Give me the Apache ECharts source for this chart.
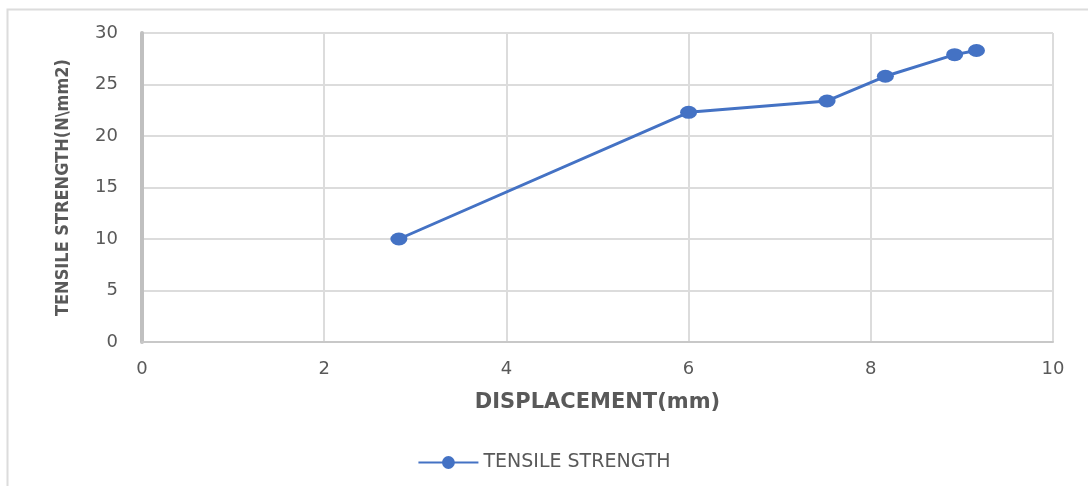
<!DOCTYPE html>
<html>
<head>
<meta charset="utf-8">
<script src="https://cdn.jsdelivr.net/npm/echarts@6/dist/echarts.min.js"></script>
<style>
html,body{margin:0;padding:0;background:#fff;}
#c{width:1088px;height:486px;}
</style>
</head>
<body>
<div id="c"></div>
<script>
const displacement = [2.82, 6.0, 7.52, 8.16, 8.92, 9.16];
const tensileStrength = [10.0, 22.3, 23.4, 25.8, 27.9, 28.3];
const seriesName = 'TENSILE STRENGTH';
const xAxisName = 'DISPLACEMENT(mm)';
const yAxisName = 'TENSILE STRENGTH(N\\mm2)';

const chart = echarts.init(document.getElementById('c'), null, {renderer: 'canvas'});
const labelColor = '#595959';
chart.setOption({
  animation: false,
  backgroundColor: '#ffffff',
  graphic: [{
    type: 'rect',
    left: 5, top: 7,
    shape: {width: 1200, height: 600},
    style: {fill: 'none', stroke: '#dcdcdc', lineWidth: 2},
    silent: true
  }],
  grid: {left: 142, right: 35, top: 33, bottom: 144, containLabel: false},
  legend: {
    bottom: 9,
    left: 'center',
    itemWidth: 60,
    itemHeight: 16,
    itemGap: 8,
    textStyle: {color: labelColor, fontSize: 19, fontFamily: 'DejaVu Sans'},
    data: [seriesName]
  },
  xAxis: {
    type: 'value',
    min: 0, max: 10, interval: 2,
    name: xAxisName,
    nameLocation: 'middle',
    nameGap: 50,
    nameTextStyle: {color: labelColor, fontSize: 21, fontWeight: 'bold', fontFamily: 'DejaVu Sans'},
    axisLine: {show: true, lineStyle: {color: '#c8c8c8', width: 2}},
    axisTick: {show: false},
    axisLabel: {color: labelColor, fontSize: 18, fontFamily: 'DejaVu Sans', margin: 18},
    splitLine: {show: true, lineStyle: {color: '#dcdcdc', width: 2}}
  },
  yAxis: {
    type: 'value',
    min: 0, max: 30, interval: 5,
    name: yAxisName,
    nameLocation: 'middle',
    nameGap: 70,
    nameRotate: 90,
    nameTextStyle: {color: labelColor, fontSize: 18, fontWeight: 'bold', fontFamily: 'DejaVu Sans Condensed, DejaVu Sans'},
    axisLine: {show: true, lineStyle: {color: '#c0c0c0', width: 4}},
    axisTick: {show: false},
    axisLabel: {color: labelColor, fontSize: 18, fontFamily: 'DejaVu Sans', margin: 24},
    splitLine: {show: true, lineStyle: {color: '#dcdcdc', width: 2}}
  },
  series: [{
    name: seriesName,
    type: 'line',
    data: displacement.map((x, i) => [x, tensileStrength[i]]),
    symbol: 'circle',
    symbolSize: [17, 13],
    itemStyle: {color: '#4472C4'},
    lineStyle: {color: '#4472C4', width: 3}
  }]
});
</script>
</body>
</html>
